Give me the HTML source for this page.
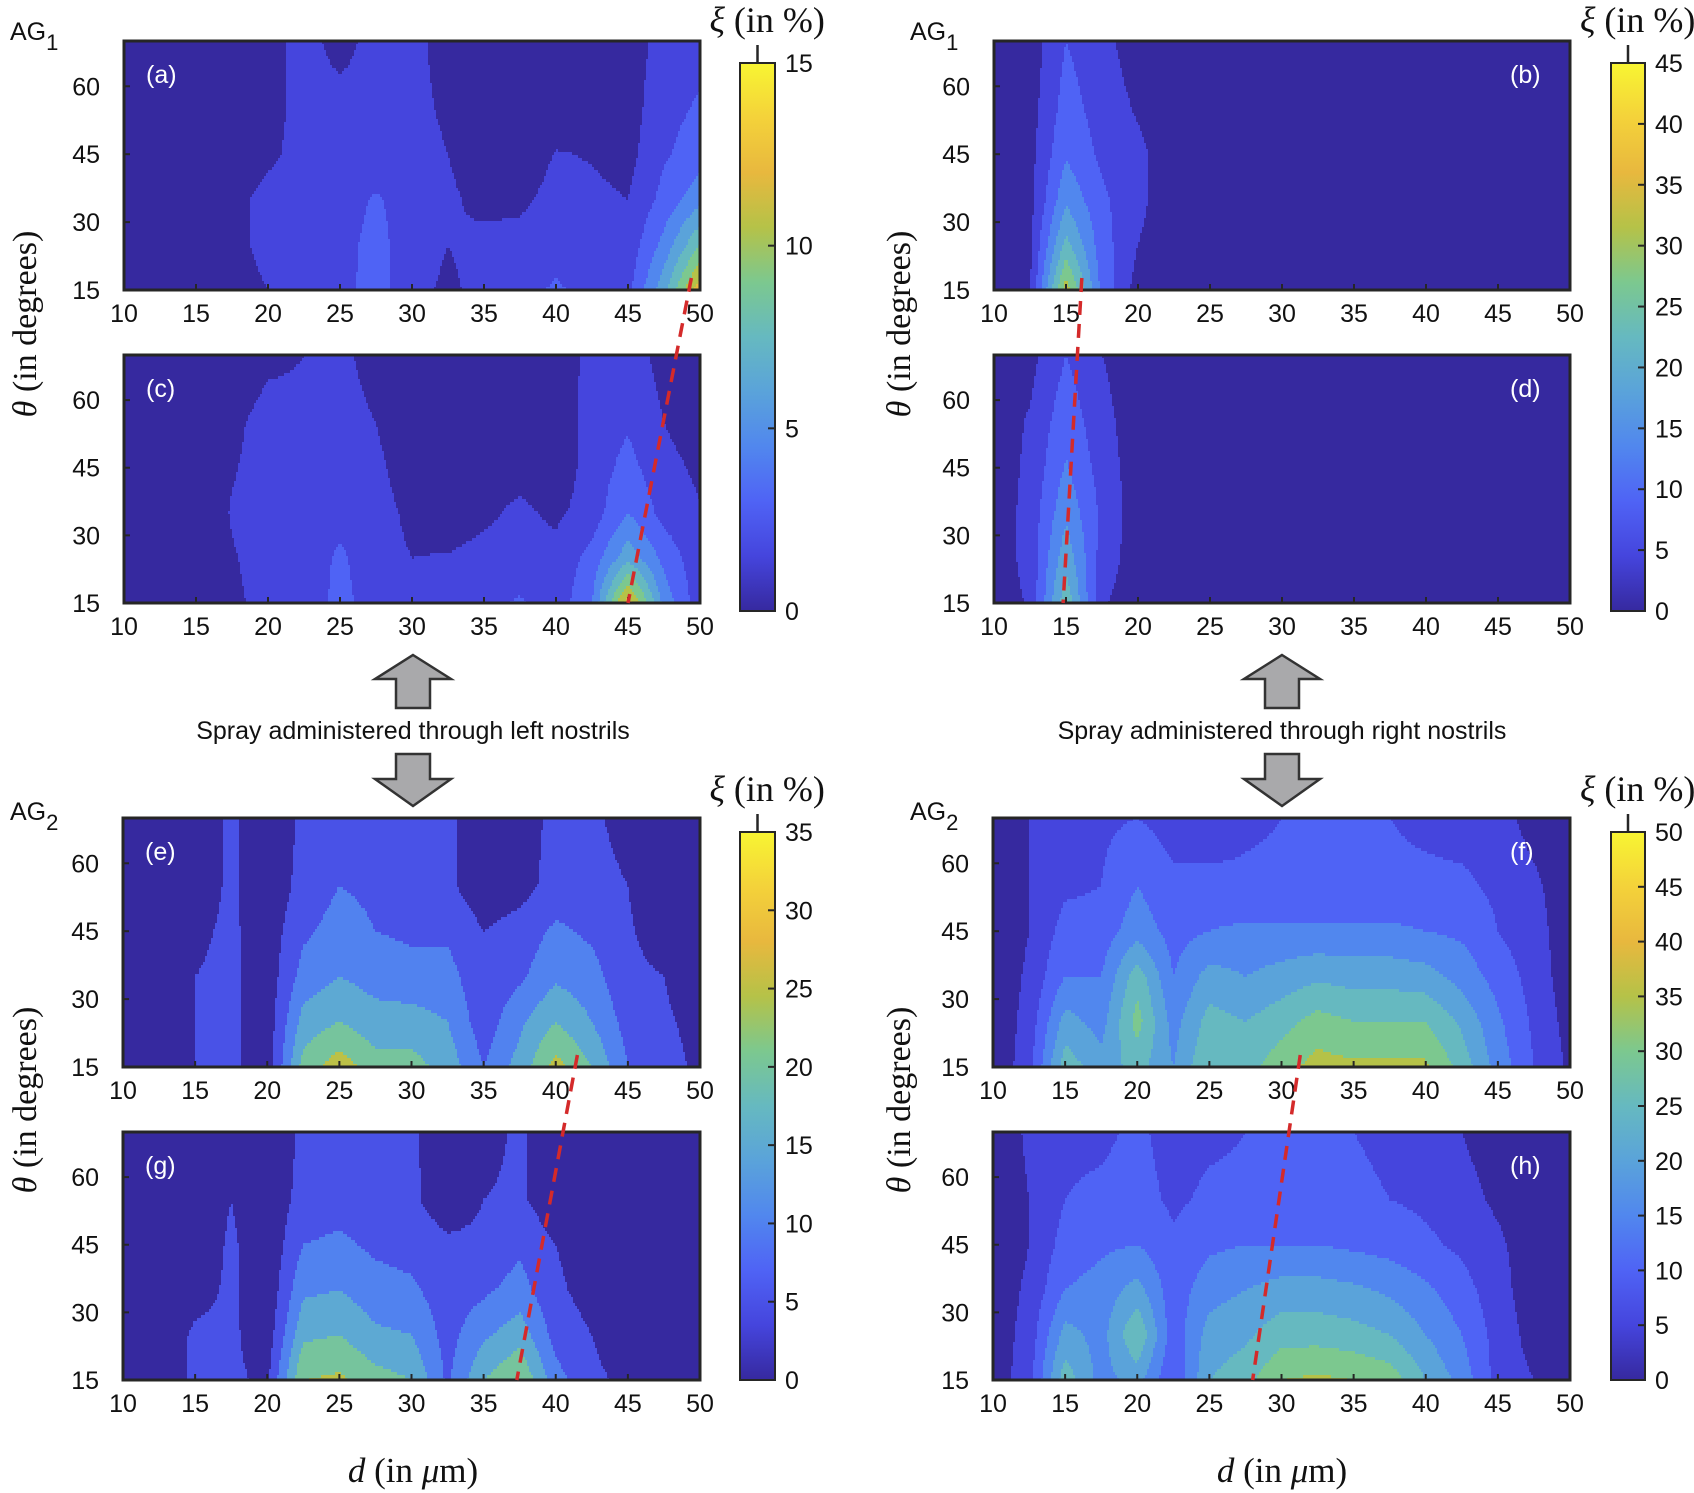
<!DOCTYPE html>
<html><head><meta charset="utf-8">
<style>
html,body{margin:0;padding:0;background:#fff;}
svg{display:block;}
.tk{font-family:"Liberation Sans",Arial,sans-serif;font-size:25px;fill:#111;}
.ser{font-family:"Liberation Serif","DejaVu Serif",serif;fill:#111;}
.pl{font-family:"Liberation Sans",Arial,sans-serif;font-size:25px;fill:#fff;}
</style></head>
<body>
<svg id="fig" width="1694" height="1493" viewBox="0 0 1694 1493" xmlns="http://www.w3.org/2000/svg">
<defs>
<linearGradient id="cbgrad" x1="0" y1="1" x2="0" y2="0">
<stop offset="0" stop-color="#36299f"/><stop offset="0.1" stop-color="#4545dd"/><stop offset="0.2" stop-color="#4f63f5"/><stop offset="0.3" stop-color="#5187ee"/><stop offset="0.4" stop-color="#5aa3da"/><stop offset="0.5" stop-color="#66b9c0"/><stop offset="0.6" stop-color="#7cc88f"/><stop offset="0.7" stop-color="#b5c248"/><stop offset="0.8" stop-color="#e8b83e"/><stop offset="0.9" stop-color="#f4d23a"/><stop offset="1" stop-color="#f8f532"/>
</linearGradient>
</defs>
<g id="layer"></g>
</svg>
<script>
// ---- data ----
const dValues=[10,12.5,15,17.5,20,22.5,25,27.5,30,32.5,35,37.5,40,42.5,45,47.5,50];
const thetaValues=[70,55,45,35,25,15];
const xTicks=[10,15,20,25,30,35,40,45,50];
const yTicks=[15,30,45,60];
const panelA=[
[0.5,0.5,0.5,0.5,1.0,2,1.0,2,2,0.8,0.5,0.5,0.5,0.5,0.8,2,2.5],
[0.5,0.5,0.5,0.5,1.0,2,2,2,2,1.2,0.5,0.5,0.5,0.5,0.8,2.5,3.2],
[0.5,0.5,0.5,0.5,1.2,2,2,2,2.2,1.5,0.5,0.5,1.6,1.4,1.0,2.8,3.8],
[0.5,0.5,0.5,1.0,2,2,2.2,3.2,2.2,1.8,1.0,1.2,2,1.8,1.5,3.5,5.5],
[0.5,0.5,0.5,1.0,2,2,2.5,3.5,2.2,1.5,2,2,2.5,2,2,5,9],
[0.5,0.5,0.5,0.8,1.5,2,2.5,3.6,2,1.2,2,2.5,3.2,2.5,2.5,7,13]];
const panelC=[
[0.5,0.5,0.5,0.5,1.2,1.5,1.8,1.0,0.5,0.5,0.5,0.5,0.5,2,2.2,1.0,0.5],
[0.5,0.5,0.5,1.2,2,1.8,2,1.5,0.5,0.5,0.5,0.5,0.5,2.2,2.8,1.5,0.6],
[0.5,0.5,0.5,1.4,2,2,2,1.8,0.8,0.5,1.0,1.0,0.5,2.2,3.5,2,1.2],
[0.5,0.5,0.5,1.6,2,2,2.5,2,1.2,0.6,1.2,1.8,1.2,2.2,4.5,2.5,1.6],
[0.5,0.5,0.5,1.4,2,2,3.3,2,1.5,1.6,2,2,2,3.5,7,4,2],
[0.5,0.5,0.5,1.2,2,2,3.5,2.2,1.5,1.7,2.5,3.2,2,4.5,13,5.5,2]];
const panelB=[
[2,2,9,6,2,2,2,2,2,2,2,2,2,2,2,2,2],
[2,2.5,11,7,4,2,2,2,2,2,2,2,2,2,2,2,2],
[2,3,13,8,5.5,2,2,2,2,2,2,2,2,2,2,2,2],
[2,3,17,10,5.5,2,2,2,2,2,2,2,2,2,2,2,2],
[2,3.5,24,11,4.5,2,2,2,2,2,2,2,2,2,2,2,2],
[2,4,34,12,2.5,2,2,2,2,2,2,2,2,2,2,2,2]];
const panelD=[
[2,3,9,4.5,2,2,2,2,2,2,2,2,2,2,2,2,2],
[2,5,12,6,2,2,2,2,2,2,2,2,2,2,2,2,2],
[2,5.5,14,7,2,2,2,2,2,2,2,2,2,2,2,2,2],
[2,6,17,8,2,2,2,2,2,2,2,2,2,2,2,2,2],
[2,6,21,7,2,2,2,2,2,2,2,2,2,2,2,2,2],
[2,5,26,5,2,2,2,2,2,2,2,2,2,2,2,2,2]];
const panelE=[
[1,1,1,6,1,6,7,7,6,6,2,1.5,7,6,3,1,1],
[1,1,2,6,1,7,10,9,7,6,2,3,7,7,5,2,1],
[1,1,4,6,2,9,12,10,9,9,5,7,11,9,5.5,3,1],
[1,1,5,6,2,12,15,13,12,12,6,9,14,12,6,5,1],
[1,1,5,6,2,17,20,17,17,15,7,14,20,15,8,6,3],
[1,1,5,6,2,22,28,22,22,18,10,17,27,20,10,7,4]];
const panelG=[
[1,1,1,1,1,6,6,6,6,1.5,3,6,1,1,1,1,1],
[1,1,1,5,1,7,8,7,6,2,5,6,1.5,1,1,1,1],
[1,1,1,6,1,10,11,9,8,6,6,9,5,2,1,1,1],
[1,1,3,6,1,14,15,12,11,7,9,12,6,3,1,1,1],
[1,1,6,6,2,19,20,16,15,8,14,18,8,5,2,1,1],
[1,1,6,6,4,25,26,22,20,9,20,25,12,6,4,1,1]];
const panelF=[
[1,5,8,9,10,8,6,9,10,10,10,10,9,8,7,3,2],
[1,5,9,10,15,11,12,11,11,11,11,11,11,11,9,6,2],
[1,5,12,12,18,13,15,16,16,16,16,16,15,14,10,7,2],
[1,6,15,15,28,15,22,20,22,24,23,23,22,18,13,8,2],
[1,7,22,18,32,18,27,25,28,32,30,30,30,24,16,9,3],
[1,8,28,22,27,20,30,28,33,37,36,36,36,28,18,10,4]];
const panelH=[
[1,6,9,9,11,8,9,10,10,10,10,9,8,5,2,1,1],
[1,5,10,11,12,9,11,11,11,11,11,10,9,7,4,2,1],
[1,5,12,14,15,11,14,15,15,15,14,13,11,9,6,2,1],
[2,6,15,17,22,12,18,20,22,22,21,19,16,12,7,2,2],
[2,7,22,18,30,12,22,24,28,28,27,25,20,15,8,3,2],
[2,8,28,18,22,10,25,28,35,36,35,33,25,18,8,5,3]];
const cbTicksA=[0,5,10,15];
const cbTicksB=[0,5,10,15,20,25,30,35,40,45];
const cbTicksE=[0,5,10,15,20,25,30,35];
const cbTicksF=[0,5,10,15,20,25,30,35,40,45,50];
// red dashed peak-shift lines: [d at upper panel, d at lower panel]
const shiftLeftTop=[49.4,45.0];
const shiftRightTop=[16.1,14.8];
const shiftLeftBot=[41.5,37.3];
const shiftRightBot=[31.3,28.0];

// ---- helpers ----
const NS="http://www.w3.org/2000/svg";
const layer=document.getElementById('layer');
function mk(tag,attrs,parent){const e=document.createElementNS(NS,tag);for(const k in attrs)e.setAttribute(k,attrs[k]);(parent||layer).appendChild(e);return e;}
const stops=[[0,[54,41,159]],[0.1,[69,69,221]],[0.2,[79,99,245]],[0.3,[81,135,238]],[0.4,[90,163,218]],[0.5,[102,185,192]],[0.6,[124,200,143]],[0.7,[181,194,72]],[0.8,[232,184,62]],[0.9,[244,210,58]],[1,[248,245,50]]];
function cmap(t){t=Math.max(0,Math.min(1,t));for(let i=0;i<stops.length-1;i++){const a=stops[i],b=stops[i+1];if(t<=b[0]){const f=(t-a[0])/(b[0]-a[0]);const c=a[1].map((v,j)=>Math.round(v+(b[1][j]-v)*f));return 'rgb('+c.join(',')+')';}}return 'rgb(248,245,50)';}

function makeAxes(L,T,R,B){
  return {L,T,R,B,x:d=>L+(d-10)/40*(R-L),y:t=>B-(t-15)/55*(B-T),
    dx:px=>10+(px-L)/(R-L)*40,ty:py=>15+(B-py)/(B-T)*55};
}
function sample(grid,d,t){
  let c=(d-10)/2.5;c=Math.max(0,Math.min(15.9999,c));const ci=Math.floor(c),cf=c-ci;
  let ri=0;for(let i=0;i<thetaValues.length-1;i++){if(t<=thetaValues[i]&&t>=thetaValues[i+1]){ri=i;break;}}
  if(t>thetaValues[0])ri=0;if(t<thetaValues[thetaValues.length-1])ri=thetaValues.length-2;
  const t0=thetaValues[ri],t1=thetaValues[ri+1];let rf=(t0-t)/(t0-t1);rf=Math.max(0,Math.min(1,rf));
  const v00=grid[ri][ci],v01=grid[ri][ci+1],v10=grid[ri+1][ci],v11=grid[ri+1][ci+1];
  return (v00*(1-cf)+v01*cf)*(1-rf)+(v10*(1-cf)+v11*cf)*rf;
}
function drawPanel(name,grid,ax,vmax,step,label,labelRight){
  const g=mk('g',{});
  
  
  const bw=2,bh=3;
  for(let py=ax.T;py<ax.B;py+=bh){
    const h=Math.min(bh,ax.B-py);const t=ax.ty(py+h/2);
    let runStart=ax.L,runCol=null;
    for(let px=ax.L;;px+=bw){
      const end=px>=ax.R;
      let col=null;
      if(!end){const v=sample(grid,ax.dx(px+bw/2),t);const idx=Math.floor(v/step);col=cmap(idx*step/vmax);}
      if(end||col!==runCol){
        if(runCol!==null){const r=mk('rect',{x:runStart,y:py,width:Math.min(px,ax.R)-runStart+0.6,height:h+0.6,fill:runCol},g);
          
          }
        runStart=px;runCol=col;
      }
      if(end)break;
    }
  }
  const fr=mk('rect',{x:ax.L,y:ax.T,width:ax.R-ax.L,height:ax.B-ax.T,fill:'none',stroke:'#262626','stroke-width':3});
  
  
  xTicks.forEach(d=>{const x=ax.x(d);mk('line',{x1:x,y1:ax.B,x2:x,y2:ax.B-6,stroke:'#262626','stroke-width':2});
    const tx=mk('text',{x:x,y:ax.B+32,'text-anchor':'middle',class:'tk'});tx.textContent=d;
    
    });
  yTicks.forEach(v=>{const y=ax.y(v);mk('line',{x1:ax.L,y1:y,x2:ax.L+6,y2:y,stroke:'#262626','stroke-width':2});
    const ty=mk('text',{x:ax.L-24,y:y+9,'text-anchor':'end',class:'tk'});ty.textContent=v;
    
    });
  const lb=mk('text',{x:labelRight?ax.R-60:ax.L+22,y:ax.T+42,class:'pl'});lb.textContent=label;
  
  
}
function colorbar(name,L,T,R,B,ticks,vmax){
  const r=mk('rect',{x:L,y:T,width:R-L,height:B-T,fill:'url(#cbgrad)',stroke:'#262626','stroke-width':2});
  
  
  ticks.forEach(v=>{const y=B-(v/vmax)*(B-T);mk('line',{x1:R-7,y1:y,x2:R,y2:y,stroke:'#262626','stroke-width':2});
    const t=mk('text',{x:R+10,y:y+9,class:'tk'});t.textContent=v;
    
    });
  mk('line',{x1:(L+R)/2,y1:T,x2:(L+R)/2,y2:T-18,stroke:'#262626','stroke-width':2.5});
  const tt=mk('text',{x:(L+R)/2-48,y:T-31,class:'ser','font-size':'36'});
  tt.innerHTML='<tspan font-style="italic">ξ</tspan> (in %)';
  
  
}
function dashed(name,axTop,axBot,pair){
  const l=mk('line',{x1:axTop.x(pair[0]),y1:axTop.B-12,x2:axBot.x(pair[1]),y2:axBot.B,stroke:'#d42a2a','stroke-width':3.5,'stroke-dasharray':'14,9'});
  
  
}

// ---- layout ----
const axA=makeAxes(124,41,700,290), axC=makeAxes(124,355,700,603);
const axB=makeAxes(994,41,1570,290), axD=makeAxes(994,355,1570,603);
const axE=makeAxes(123,818,700,1067), axG=makeAxes(123,1132,700,1380);
const axF=makeAxes(993,818,1570,1067), axH=makeAxes(993,1132,1570,1380);
drawPanel('panel-a',panelA,axA,15,1.5,'(a)',false);
drawPanel('panel-c',panelC,axC,15,1.5,'(c)',false);
drawPanel('panel-b',panelB,axB,45,4.5,'(b)',true);
drawPanel('panel-d',panelD,axD,45,4.5,'(d)',true);
drawPanel('panel-e',panelE,axE,35,5,'(e)',false);
drawPanel('panel-g',panelG,axG,35,5,'(g)',false);
drawPanel('panel-f',panelF,axF,50,5,'(f)',true);
drawPanel('panel-h',panelH,axH,50,5,'(h)',true);
colorbar('colorbar-top-left',740,63,775,611,cbTicksA,15);
colorbar('colorbar-top-right',1611,63,1645,611,cbTicksB,45);
colorbar('colorbar-bottom-left',740,832,775,1380,cbTicksE,35);
colorbar('colorbar-bottom-right',1611,832,1645,1380,cbTicksF,50);
dashed('peak-shift-line-left-top',axA,axC,shiftLeftTop);
dashed('peak-shift-line-right-top',axB,axD,shiftRightTop);
dashed('peak-shift-line-left-bottom',axE,axG,shiftLeftBot);
dashed('peak-shift-line-right-bottom',axF,axH,shiftRightBot);

function txt(name,attrs,html){const t=mk('text',attrs);t.innerHTML=html;return t;}
txt('group-label-ag1-left',{x:10,y:40,class:'tk','font-size':'26'},'AG<tspan dy="10" font-size="22">1</tspan>');
txt('group-label-ag1-right',{x:910,y:40,class:'tk','font-size':'26'},'AG<tspan dy="10" font-size="22">1</tspan>');
txt('group-label-ag2-left',{x:10,y:820,class:'tk','font-size':'26'},'AG<tspan dy="10" font-size="22">2</tspan>');
txt('group-label-ag2-right',{x:910,y:820,class:'tk','font-size':'26'},'AG<tspan dy="10" font-size="22">2</tspan>');
txt('y-axis-title-top-left',{x:0,y:0,class:'ser','font-size':'34','text-anchor':'middle',transform:'translate(36,324) rotate(-90)'},'<tspan font-style="italic">θ</tspan> (in degrees)');
txt('y-axis-title-top-right',{x:0,y:0,class:'ser','font-size':'34','text-anchor':'middle',transform:'translate(910,324) rotate(-90)'},'<tspan font-style="italic">θ</tspan> (in degrees)');
txt('y-axis-title-bottom-left',{x:0,y:0,class:'ser','font-size':'34','text-anchor':'middle',transform:'translate(36,1100) rotate(-90)'},'<tspan font-style="italic">θ</tspan> (in degrees)');
txt('y-axis-title-bottom-right',{x:0,y:0,class:'ser','font-size':'34','text-anchor':'middle',transform:'translate(910,1100) rotate(-90)'},'<tspan font-style="italic">θ</tspan> (in degrees)');
txt('x-axis-title-left',{x:413,y:1482,class:'ser','font-size':'35','text-anchor':'middle'},'<tspan font-style="italic">d</tspan> (in <tspan font-style="italic">μ</tspan>m)');
txt('x-axis-title-right',{x:1282,y:1482,class:'ser','font-size':'35','text-anchor':'middle'},'<tspan font-style="italic">d</tspan> (in <tspan font-style="italic">μ</tspan>m)');
txt('caption-left',{x:413,y:739,class:'tk','font-size':'27','text-anchor':'middle'},'Spray administered through left nostrils');
txt('caption-right',{x:1282,y:739,class:'tk','font-size':'27','text-anchor':'middle'},'Spray administered through right nostrils');
function arrow(name,cx,up){
  const pts=up?[[cx,655],[cx+38,679],[cx+17,679],[cx+17,708],[cx-17,708],[cx-17,679],[cx-38,679]]
             :[[cx,806],[cx+38,779],[cx+17,779],[cx+17,754],[cx-17,754],[cx-17,779],[cx-38,779]];
  const p=mk('polygon',{points:pts.map(q=>q.join(',')).join(' '),fill:'#a9a9ab',stroke:'#333','stroke-width':2.5});
  
  
}
arrow('arrow-up-left',413,true);arrow('arrow-down-left',413,false);
arrow('arrow-up-right',1282,true);arrow('arrow-down-right',1282,false);
</script>
</body></html>
